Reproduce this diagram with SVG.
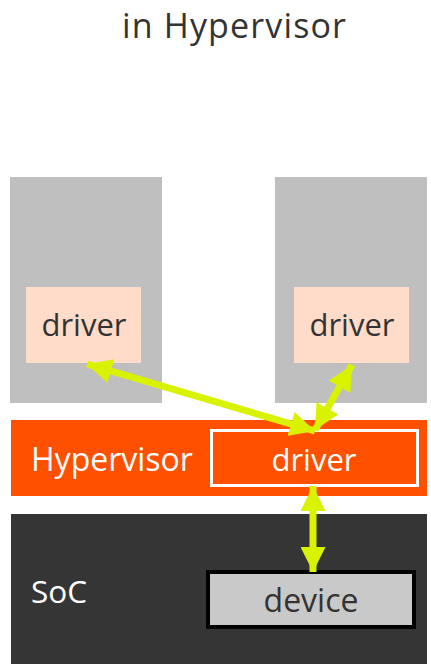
<svg xmlns="http://www.w3.org/2000/svg" width="431" height="664" viewBox="0 0 431 664">
<defs>
<style>
text{font-family:"Open Sans","Liberation Sans",sans-serif}
.dk{fill:#333333}
.wt{fill:#ffffff}
.vm{fill:#bfbfbf}
.drv{fill:#fedcc9}
.arr{stroke:#d9f200;stroke-width:7;fill:none}
</style>
<marker id="ah" viewBox="0 0 10 10" refX="10" refY="5" markerWidth="25" markerHeight="25" markerUnits="userSpaceOnUse" orient="auto-start-reverse">
<path d="M0,0 L10,5 L0,10 Z" fill="#d9f200"/>
</marker>
</defs>
<rect width="431" height="664" fill="#ffffff"/>
<text x="234" y="38" font-size="34" text-anchor="middle" textLength="224" lengthAdjust="spacing" class="dk">in Hypervisor</text>
<g id="vm1">
<rect x="10" y="177" width="152" height="226" class="vm"/>
<g id="driver1">
<rect x="26" y="287" width="115" height="76" class="drv"/>
<text x="84" y="336" font-size="31" text-anchor="middle" class="dk">driver</text>
</g>
</g>
<g id="vm2">
<rect x="275" y="177" width="152" height="226" class="vm"/>
<g id="driver2">
<rect x="294" y="287" width="115" height="76" class="drv"/>
<text x="352" y="336" font-size="31" text-anchor="middle" class="dk">driver</text>
</g>
</g>
<g id="hypervisor">
<rect x="11" y="420" width="416" height="76" fill="#ff5000"/>
<text x="31" y="471" font-size="32" class="wt">Hypervisor</text>
</g>
<g id="hvdriver">
<rect x="211.5" y="430.5" width="206" height="55" fill="#ff5000" stroke="#ffffff" stroke-width="3"/>
<text x="314" y="471" font-size="31" text-anchor="middle" class="wt">driver</text>
</g>
<g id="soc">
<rect x="11" y="514" width="416" height="150" fill="#353535"/>
<text x="31" y="603" font-size="31.5" class="wt">SoC</text>
</g>
<g id="device">
<rect x="208" y="572" width="206" height="55" fill="#c9c9c9" stroke="#000000" stroke-width="4"/>
<text x="311" y="612" font-size="32" text-anchor="middle" class="dk">device</text>
</g>
<g id="connectors">
<line x1="87" y1="364" x2="315" y2="431" class="arr" marker-start="url(#ah)" marker-end="url(#ah)"/>
<line x1="352" y1="365" x2="315" y2="430" class="arr" marker-start="url(#ah)" marker-end="url(#ah)"/>
<line x1="313" y1="486" x2="313" y2="572" class="arr" marker-start="url(#ah)" marker-end="url(#ah)"/>
</g>
</svg>
